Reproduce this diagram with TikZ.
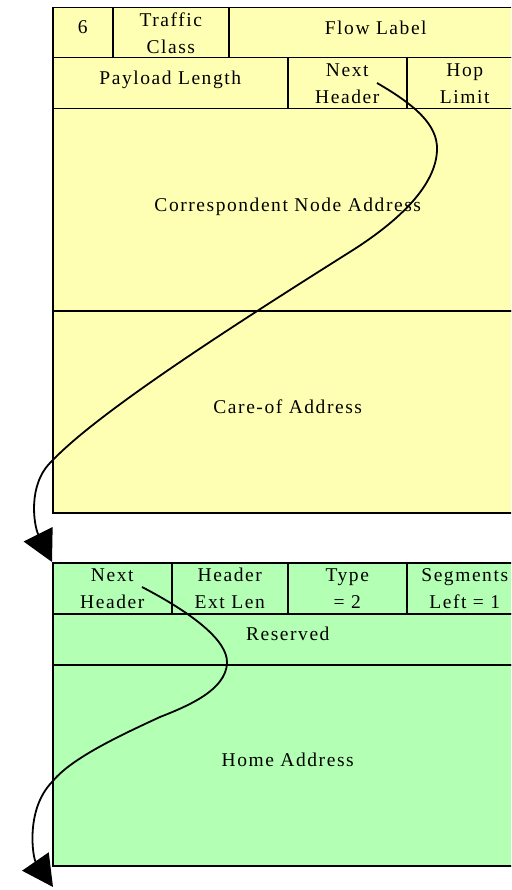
\documentclass[tikz,border=0pt]{standalone}
\usepackage{fontspec}
\setmainfont{Liberation Serif}[LetterSpace=8]
\usetikzlibrary{arrows.meta}
\definecolor{yel}{RGB}{255,255,179}
\definecolor{grn}{RGB}{179,255,179}
\begin{document}
\begin{tikzpicture}[x=1pt,y=-1pt,
  cell/.style={draw=black, line width=1.5pt, anchor=north west, inner sep=0pt,
    align=center, font=\fontsize{19.5}{27}\selectfont, text=black},
  ycell/.style={cell, fill=yel},
  gcell/.style={cell, fill=grn},
  conn/.style={line width=1.8pt, -{Triangle[length=31pt,width=32pt]}}]
\useasboundingbox (0,0) rectangle (511,890);
\clip (0,0) rectangle (511,890);
% IPv6 header (yellow)
\node[ycell, minimum width=60pt,  minimum height=50pt]  (six) at (52,7)   {\raisebox{11pt}{6}};
\node[ycell, minimum width=116pt, minimum height=50pt]  (tc)  at (112,7)  {Traffic\\Class};
\node[ycell, minimum width=294pt, minimum height=50pt]  (fl)  at (228,7)  {\raisebox{11pt}{Flow Label}};
\node[ycell, minimum width=235pt, minimum height=51pt]  (pl)  at (52,57)  {\raisebox{11pt}{Payload Length}};
\node[ycell, minimum width=119pt, minimum height=51pt]  (nh)  at (287,57) {Next\\Header};
\node[ycell, minimum width=116pt, minimum height=51pt]  (hl)  at (406,57) {Hop\\Limit};
\node[ycell, minimum width=470pt, minimum height=202pt] (cn)  at (52,108) {\raisebox{11pt}{Correspondent Node Address}};
\node[ycell, minimum width=470pt, minimum height=202pt] (co)  at (52,310) {\raisebox{11pt}{Care-of Address}};
% Routing header (green)
\node[gcell, minimum width=119pt, minimum height=51pt]  (gnh) at (52,562)  {Next\\Header};
\node[gcell, minimum width=116pt, minimum height=51pt]  (hel) at (171,562) {Header\\Ext Len};
\node[gcell, minimum width=119pt, minimum height=51pt]  (ty)  at (287,562) {Type\\= 2};
\node[gcell, minimum width=116pt, minimum height=51pt]  (sl)  at (406,562) {Segments\\Left = 1};
\node[gcell, minimum width=470pt, minimum height=51pt]  (rs)  at (52,613)  {\raisebox{11pt}{Reserved}};
\node[gcell, minimum width=470pt, minimum height=201pt] (ha)  at (52,664)  {\raisebox{11pt}{Home Address}};
% connector endpoints
\coordinate (s1) at (377,83);
\coordinate (s2) at (142,587);
\coordinate (e2) at (53,887);
\draw[conn] (s1) .. controls (415,105) and (438,125) .. (437,150)
  .. controls (436,185) and (400,220) .. (353,250)
  .. controls (250,315) and (100,410) .. (52,461)
  .. controls (27,484) and (34,526) .. (gnh.north west);
\draw[conn] (s2) .. controls (190,612) and (228,640) .. (227,663)
  .. controls (226,690) and (188,706) .. (160,717)
  .. controls (110,740) and (70,760) .. (52,782)
  .. controls (25,810) and (33,858) .. (e2);
\end{tikzpicture}
\end{document}
